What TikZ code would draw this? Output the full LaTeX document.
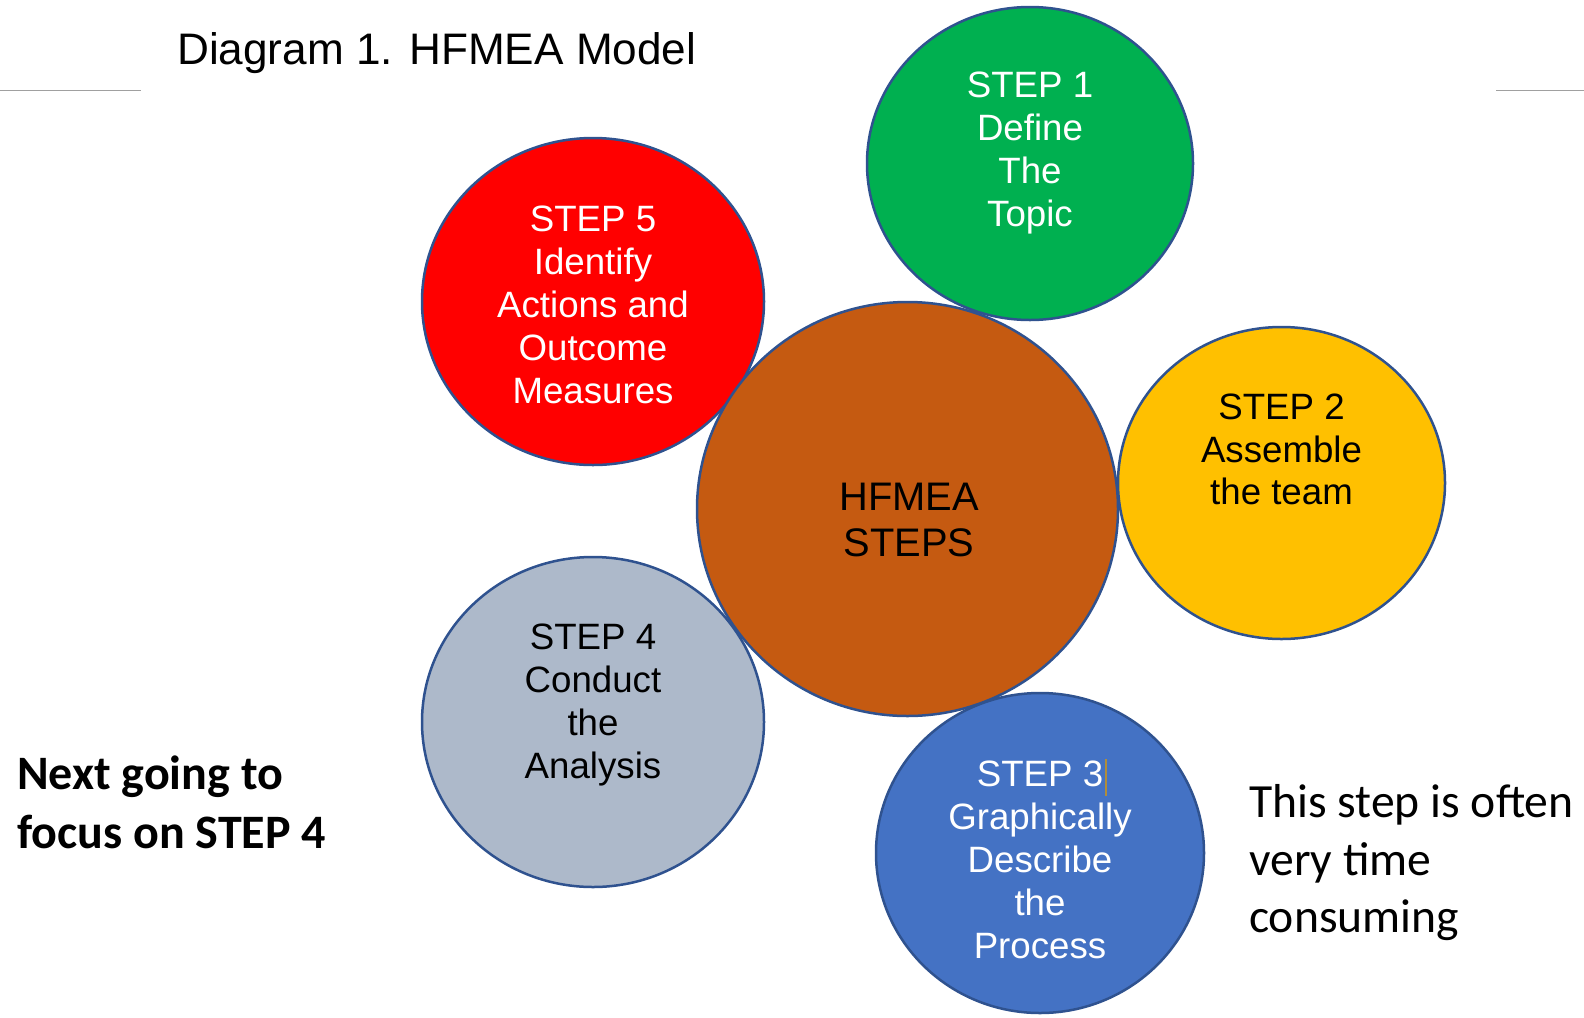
\documentclass[tikz,border=0pt]{standalone}
\usepackage{fontspec}
\setmainfont{Liberation Sans}
\newfontfamily\calibri{Carlito}
\usetikzlibrary{shapes.geometric}
\definecolor{cgreen}{HTML}{00B050}
\definecolor{cred}{HTML}{FF0000}
\definecolor{cbrown}{HTML}{C55A11}
\definecolor{cyellow}{HTML}{FFC000}
\definecolor{cgrey}{HTML}{ADB9CA}
\definecolor{cblue}{HTML}{4472C4}
\definecolor{cedge}{HTML}{2F528F}
\definecolor{crule}{HTML}{A0A0A0}
\definecolor{ccursor}{HTML}{B08D3A}
\tikzset{
  bubble/.style={ellipse, draw=cedge, line width=2.5bp, inner sep=0pt, outer sep=0pt},
  steptext/.style={align=center, inner sep=0pt, font=\fontsize{36.8}{43}\selectfont},
  sidetext/.style={align=left, inner sep=0pt, anchor=north west, font=\calibri\fontsize{47.8}{58}\selectfont},
}
\begin{document}
\begin{tikzpicture}[x=1bp, y=-1bp]
\useasboundingbox (0,0) rectangle (1584,1017);
% rules
\coordinate (l1) at (0,90.5);
\coordinate (l2) at (141,90.5);
\coordinate (r1) at (1496,90.5);
\coordinate (r2) at (1584,90.5);
\draw[crule, line width=1.2bp] (l1) -- (l2);
\draw[crule, line width=1.2bp] (r1) -- (r2);
% title
\node[anchor=base west, inner sep=0pt, font=\fontsize{44.3}{50}\selectfont] (title) at (177,64) {Diagram 1. HFMEA Model};
% circles
\node[bubble, fill=cgreen, minimum width=326bp, minimum height=313bp] (s1) at (1030,163.5) {};
\node[bubble, fill=cred, minimum width=342bp, minimum height=327bp] (s5) at (593,301.5) {};
\node[bubble, fill=cyellow, minimum width=327bp, minimum height=312bp] (s2) at (1281.5,483) {};
\node[bubble, fill=cgrey, minimum width=342bp, minimum height=330bp] (s4) at (593,722) {};
\node[bubble, fill=cblue, minimum width=328bp, minimum height=320bp] (s3) at (1040,853) {};
\node[bubble, fill=cbrown, minimum width=421bp, minimum height=414bp] (hub) at (907.5,509) {};
% texts
\node[steptext, text=white] (t1) at (1030,153) {STEP 1\\Define\\The\\Topic};
\node[steptext, text=white] (t5) at (593,305) {STEP 5\\Identify\\Actions and\\Outcome\\Measures};
\node[steptext, text=black] (t2) at (1281.5,449.5) {STEP 2\\Assemble\\the team};
\node[steptext, text=black] (t4) at (593,705) {STEP 4\\Conduct\\the\\Analysis};
\node[steptext, text=white] (t3) at (1040,860) {STEP 3\\Graphically\\Describe\\the\\Process};
\node[align=center, inner sep=0pt, font=\fontsize{40}{46.5}\selectfont] (th) at (909,520) {HFMEA\\STEPS};
% text cursor
\coordinate (c1) at (1106,759);
\coordinate (c2) at (1106,796);
\draw[ccursor, line width=1.2bp] (c1) -- (c2);
% side notes
\node[sidetext, font=\calibri\bfseries\fontsize{48.2}{58.5}\selectfont] (left) at (17,756) {Next going to\\focus on STEP 4};
\node[sidetext] (right) at (1249,784) {This step is often\\very time\\consuming};
\end{tikzpicture}
\end{document}
